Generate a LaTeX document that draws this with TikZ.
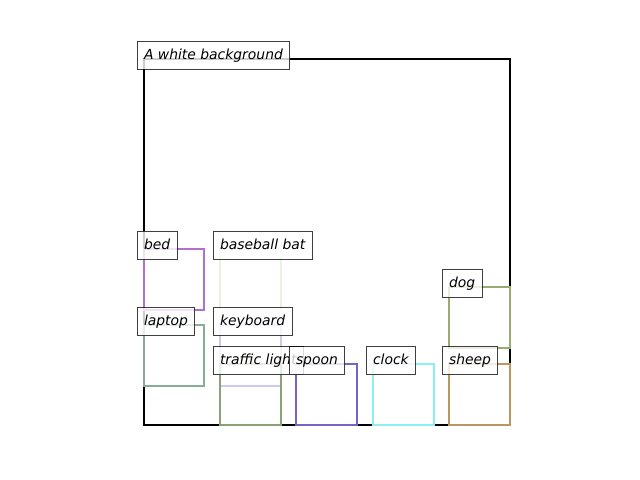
\documentclass[tikz,border=0pt]{standalone}
\usepackage{fontspec}
\setmainfont{DejaVu Sans}
\definecolor{cbed}{RGB}{176,112,208}
\definecolor{cbat}{RGB}{230,244,222}
\definecolor{claptop}{RGB}{136,172,152}
\definecolor{ckeyb}{RGB}{208,200,240}
\definecolor{ctraffic}{RGB}{138,160,120}
\definecolor{cspoon}{RGB}{122,98,194}
\definecolor{cclock}{RGB}{140,238,240}
\definecolor{cdog}{RGB}{150,172,112}
\definecolor{csheep}{RGB}{184,152,96}
\tikzset{
  objbox/.style={line width=2.8bp},
  lbl/.style={draw=black, draw opacity=0.75, fill=white, fill opacity=0.8, text opacity=1,
    line width=1bp, anchor=base west, inner xsep=7bp, inner ysep=0bp, outer sep=0pt,
    text height=18bp, text depth=10bp,
    font=\fontsize{13.9bp}{16bp}\selectfont\itshape}
}
\begin{document}
\begin{tikzpicture}[x=1bp,y=-1bp]
\useasboundingbox (0,0) rectangle (640,480);
% main frame
\draw[line width=2.2bp, black] (144,59) rectangle (510,425);
% object boxes
\draw[objbox, cbed] (144,249) rectangle (204,310);
\draw[objbox, cbat] (220,249) rectangle (281,310);
\draw[objbox, claptop] (144,325) rectangle (204,386);
\draw[objbox, ckeyb] (220,325) rectangle (281,386);
\draw[objbox, ctraffic] (220,364) rectangle (281,425);
\draw[objbox, cspoon] (296,364) rectangle (357,425);
\draw[objbox, cclock] (373,364) rectangle (434,425);
\draw[objbox, cdog] (449,287) rectangle (510,348);
\draw[objbox, csheep] (449,364) rectangle (510,425);
% labels
\node[lbl] (lbg) at (137,59.5) {A white background};
\node[lbl] (lbed) at (137,249.5) {bed};
\node[lbl] (lbat) at (213,249.5) {baseball bat};
\node[lbl] (llaptop) at (137,325.5) {laptop};
\node[lbl] (lkeyb) at (213,325.5) {keyboard};
\node[lbl] (ldog) at (442,287.5) {dog};
\node[lbl] (ltraffic) at (213,364.5) {traffic light};
\node[lbl] (lspoon) at (289,364.5) {spoon};
\node[lbl] (lclock) at (366,364.5) {clock};
\node[lbl] (lsheep) at (442,364.5) {sheep};
\end{tikzpicture}
\end{document}
